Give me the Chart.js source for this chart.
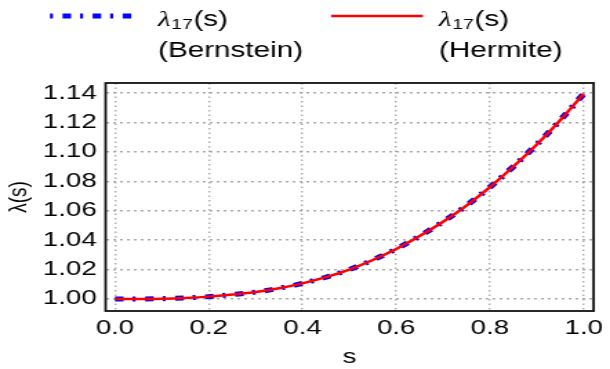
<!DOCTYPE html>
<html>
<head>
<meta charset="utf-8">
<script src="https://cdn.jsdelivr.net/npm/chart.js@4.4.1/dist/chart.umd.min.js"></script>
<style>
  html, body { margin: 0; padding: 0; background: #fff; overflow: hidden; }
  /* the source figure is stretched sideways, so the canvas is too */
  #lambda-chart { transform: scaleX(1.3801); transform-origin: 0 0; }
</style>
</head>
<body>
<canvas id="lambda-chart" width="442" height="369"></canvas>
<script>
const sValues = [0, 0.05, 0.1, 0.15, 0.2, 0.25, 0.3, 0.35, 0.4, 0.45, 0.5,
  0.55, 0.6, 0.65, 0.7, 0.75, 0.8, 0.85, 0.9, 0.95, 1.0];
const bernsteinValues = [1.0000, 1.0000, 1.0002, 1.0007, 1.0016, 1.0030, 1.0047, 1.0073, 1.0106, 1.0148, 1.0200,
  1.0265, 1.0340, 1.0428, 1.0525, 1.0635, 1.0760, 1.0900, 1.1050, 1.1215, 1.1395];
const hermiteValues = [1.0000, 1.0000, 1.0002, 1.0007, 1.0016, 1.0030, 1.0047, 1.0073, 1.0106, 1.0148, 1.0200,
  1.0265, 1.0340, 1.0428, 1.0525, 1.0635, 1.0760, 1.0900, 1.1050, 1.1215, 1.1395];
const xTickValues = [0, 0.2, 0.4, 0.6, 0.8, 1.0];
const yTickValues = [1.00, 1.02, 1.04, 1.06, 1.08, 1.10, 1.12, 1.14];
const seriesNames = ['Bernstein', 'Hermite'];

const FONT = '"Liberation Sans", Arial, sans-serif';
const GRID = 'rgba(150,150,150,0.8)';

const toPoints = (ys) => sValues.map((s, i) => ({ x: s, y: ys[i] }));

// legend drawn by hand: lambda with subscript + name on a second line
function drawLambda(ctx, x, y) {
  ctx.font = 'italic 21px "Liberation Serif", serif';
  ctx.fillText('λ', x, y);
  x += ctx.measureText('λ').width + 0.5;
  ctx.font = '14px ' + FONT;
  ctx.fillText('17', x, y + 3);
  x += ctx.measureText('17').width + 0.5;
  ctx.font = '21.5px ' + FONT;
  ctx.fillText('(s)', x, y);
}

const frameAndLegend = {
  id: 'frameAndLegend',
  afterDraw(chart) {
    const { ctx, chartArea: a } = chart;
    ctx.save();
    ctx.strokeStyle = '#111';
    ctx.lineWidth = 1.8;
    ctx.setLineDash([]);
    ctx.strokeRect(a.left, a.top, a.right - a.left, a.bottom - a.top);

    const spots = [{ x0: 36.2, x1: 97.8, tx: 114.5 }, { x0: 239.9, x1: 306.5, tx: 318.1 }];
    chart.data.datasets.forEach((ds, i) => {
      const p = spots[i];
      ctx.strokeStyle = ds.borderColor;
      ctx.lineWidth = ds.borderWidth;
      ctx.lineCap = 'butt';
      ctx.setLineDash(ds.borderDash || []);
      ctx.lineDashOffset = ds.borderDash ? ds.borderDash[0] + ds.borderDash[1] : 0;
      ctx.beginPath();
      ctx.moveTo(p.x0, 16);
      ctx.lineTo(p.x1, 16);
      ctx.stroke();
      ctx.setLineDash([]);
      ctx.fillStyle = '#000';
      ctx.textBaseline = 'alphabetic';
      ctx.textAlign = 'left';
      drawLambda(ctx, p.tx, 25.5);
      ctx.font = '21.5px ' + FONT;
      ctx.fillText('(' + seriesNames[i] + ')', p.tx, 57);
    });
    ctx.restore();
  }
};

new Chart(document.getElementById('lambda-chart'), {
  type: 'line',
  data: {
    datasets: [
      {
        label: seriesNames[0],
        data: toPoints(bernsteinValues),
        borderColor: '#0000ff',
        borderWidth: 5,
        borderDash: [6.2, 6.5, 2.2, 6.9],
        pointRadius: 0,
        cubicInterpolationMode: 'monotone',
        fill: false,
        order: 2
      },
      {
        label: seriesNames[1],
        data: toPoints(hermiteValues),
        borderColor: '#ff0000',
        borderWidth: 2.5,
        pointRadius: 0,
        cubicInterpolationMode: 'monotone',
        fill: false,
        order: 1
      }
    ]
  },
  options: {
    responsive: false,
    devicePixelRatio: 1,
    animation: false,
    layout: { padding: { top: 83, right: 8.7, bottom: 0, left: 0 } },
    plugins: {
      legend: { display: false },
      tooltip: { enabled: false }
    },
    scales: {
      x: {
        type: 'linear',
        min: -0.0201,
        max: 1.0212,
        afterBuildTicks: (s) => { s.ticks = xTickValues.map(v => ({ value: v })); },
        afterFit: (s) => { s.height = 58; },
        ticks: {
          callback: (v) => v.toFixed(1),
          font: { family: FONT, size: 20 },
          color: '#000',
          padding: 5,
          autoSkip: false,
          maxRotation: 0
        },
        grid: { color: GRID, lineWidth: 1.4, drawTicks: false },
        border: { display: false, dash: [1.5, 3] },
        title: { display: true, text: 's', font: { family: FONT, size: 20 }, color: '#000', padding: 0 }
      },
      y: {
        min: 0.99183,
        max: 1.1468,
        afterBuildTicks: (s) => { s.ticks = yTickValues.map(v => ({ value: v })); },
        afterFit: (s) => { s.width = 76.5; },
        ticks: {
          callback: (v) => v.toFixed(2),
          font: { family: FONT, size: 20 },
          color: '#000',
          padding: 6.5,
          autoSkip: false
        },
        grid: { color: GRID, lineWidth: 1.4, drawTicks: false },
        border: { display: false, dash: [2, 3] },
        title: { display: true, text: 'λ(s)', font: { family: FONT, size: 19 }, color: '#000', padding: { top: 2, bottom: 0 } }
      }
    }
  },
  plugins: [frameAndLegend]
});
</script>
</body>
</html>
